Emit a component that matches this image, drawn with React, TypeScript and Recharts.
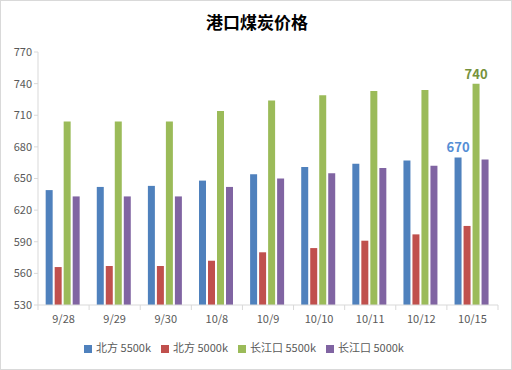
import { BarChart, Bar, XAxis, YAxis, Legend, LabelList } from "recharts"

const dates = ["9/28", "9/29", "9/30", "10/8", "10/9", "10/10", "10/11", "10/12", "10/15"]
const north5500 = [639, 642, 643, 648, 654, 661, 664, 667, 670]
const north5000 = [566, 567, 567, 572, 580, 584, 591, 597, 605]
const yangtze5500 = [704, 704, 704, 714, 724, 729, 733, 734, 740]
const yangtze5000 = [633, 633, 633, 642, 650, 655, 660, 662, 668]
const yTicks = [530, 560, 590, 620, 650, 680, 710, 740, 770]
const seriesOrder = ["n5500", "n5000", "y5500", "y5000"]

const data = dates.map((d, i) => ({
  name: d,
  n5500: north5500[i],
  n5000: north5000[i],
  y5500: yangtze5500[i],
  y5000: yangtze5000[i],
}))

const font = '"Noto Sans CJK SC", "Noto Sans", sans-serif'
const W = 512
const H = 370
const M = { top: 52, right: 14, left: 0, bottom: 15 }
const Y_W = 38
const bandW = (W - M.left - M.right - Y_W) / dates.length

// Excel-style x ticks: label under the bar group, tick mark between categories
function XTick(props: any) {
  const { x, y, payload, index } = props
  return (
    <g>
      <line x1={x - bandW / 2} y1={y - 8} x2={x - bandW / 2} y2={y - 3} stroke="#d9d9d9" />
      {index === dates.length - 1 && (
        <line x1={x + bandW / 2} y1={y - 8} x2={x + bandW / 2} y2={y - 3} stroke="#d9d9d9" />
      )}
      <text x={x} y={y + 10} textAnchor="middle" fill="#595959" fontSize={11} fontFamily={font}>
        {payload.value}
      </text>
    </g>
  )
}

function lastLabel(color: string) {
  return (props: any) => {
    const { x, y, width, value, index } = props
    if (index !== dates.length - 1) return null
    return (
      <text x={x + width / 2} y={y - 5} textAnchor="middle" fill={color} fontSize={13} fontWeight="bold" fontFamily={font}>
        {value}
      </text>
    )
  }
}

export default function App() {
  return (
    <div style={{ position: "absolute", left: 0, top: 0, width: W, height: H, border: "1px solid #d9d9d9", boxSizing: "border-box", background: "#fff" }}>
      <div style={{ position: "absolute", left: 0, top: 8, width: W, textAlign: "center", fontFamily: font, fontWeight: "bold", fontSize: 17, color: "#000" }}>
        港口煤炭价格
      </div>
      <div style={{ position: "absolute", left: -1, top: -1 }}>
        <BarChart width={W} height={H} data={data} margin={M} barGap={2} barCategoryGap="15%">
          <XAxis dataKey="name" height={30} axisLine={{ stroke: "#d9d9d9" }} tickLine={false} tick={<XTick />} interval={0} />
          <YAxis
            width={Y_W}
            domain={[530, 770]}
            ticks={yTicks}
            interval={0}
            axisLine={{ stroke: "#d9d9d9" }}
            tickLine={{ stroke: "#d9d9d9" }}
            tickSize={4}
            tick={{ fill: "#595959", fontSize: 11, fontFamily: font }}
            allowDataOverflow
          />
          <Legend
            verticalAlign="bottom"
            iconType="square"
            iconSize={8}
            height={20}
            itemSorter={(item: any) => seriesOrder.indexOf(item.dataKey)}
            wrapperStyle={{ fontFamily: font, fontSize: 11, color: "#595959", bottom: 11 }}
            formatter={(v: string) => <span style={{ color: "#595959" }}>{v}</span>}
          />
          <Bar dataKey="n5500" name="北方 5500k" fill="#4F81BD" isAnimationActive={false}>
            <LabelList dataKey="n5500" content={lastLabel("#558ED5")} />
          </Bar>
          <Bar dataKey="n5000" name="北方 5000k" fill="#C0504D" isAnimationActive={false} />
          <Bar dataKey="y5500" name="长江口 5500k" fill="#9BBB59" isAnimationActive={false}>
            <LabelList dataKey="y5500" content={lastLabel("#76923C")} />
          </Bar>
          <Bar dataKey="y5000" name="长江口 5000k" fill="#8064A2" isAnimationActive={false} />
        </BarChart>
      </div>
    </div>
  )
}
